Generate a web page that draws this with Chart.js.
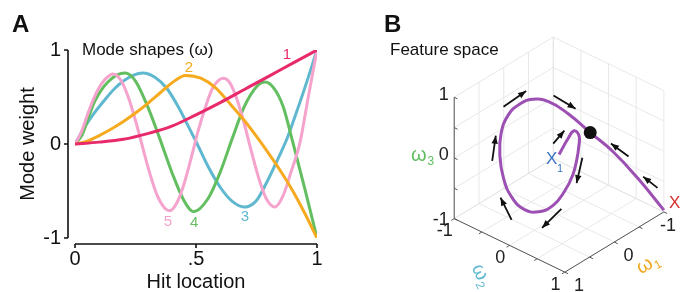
<!DOCTYPE html>
<html>
<head>
<meta charset="utf-8">
<script src="https://cdn.jsdelivr.net/npm/chart.js@4.4.1/dist/chart.umd.min.js"></script>
<style>
  body { margin: 0; background: #fff; }
  #wrap { position: relative; width: 680px; height: 292px; overflow: hidden; }
  canvas { position: absolute; top: 0; }
  #modes { left: 0; }
  #feature { left: 340px; }
</style>
</head>
<body>
<div id="wrap">
  <canvas id="modes" width="340" height="292"></canvas>
  <canvas id="feature" width="340" height="292"></canvas>
</div>
<script>
const FONT = '"Liberation Sans", Arial, Helvetica, sans-serif';
Chart.defaults.font.family = FONT;

// ---- panel A: mode shapes ----
const mode1Hit = [0, 0.1, 0.2, 0.3, 0.4, 0.5, 0.6, 0.7, 0.8, 0.9, 1];
const mode1Weight = [0, 0.02, 0.05, 0.11, 0.19, 0.31, 0.44, 0.58, 0.72, 0.86, 1];

const mode2Hit = [0, 0.05, 0.1, 0.15, 0.2, 0.25, 0.3, 0.35, 0.4, 0.457, 0.52, 0.58, 0.64, 0.7, 0.75, 0.8, 0.85, 0.9, 0.95, 1];
const mode2Weight = [0, 0.03, 0.09, 0.16, 0.24, 0.33, 0.43, 0.54, 0.65, 0.73, 0.7, 0.6, 0.43, 0.25, 0.08, -0.1, -0.29, -0.5, -0.74, -1];

const mode3Hit = [0, 0.04, 0.08, 0.12, 0.16, 0.2, 0.24, 0.28, 0.33, 0.38, 0.43, 0.47, 0.505, 0.55, 0.6, 0.65, 0.7, 0.75, 0.79, 0.84, 0.875, 0.91, 0.95, 1];
const mode3Weight = [0, 0.18, 0.33, 0.46, 0.58, 0.67, 0.73, 0.755, 0.71, 0.59, 0.38, 0.18, 0, -0.24, -0.46, -0.61, -0.67, -0.6, -0.42, -0.15, 0.05, 0.3, 0.6, 1];

const mode4Hit = [0, 0.03, 0.054, 0.081, 0.136, 0.207, 0.25, 0.3, 0.35, 0.4, 0.45, 0.49, 0.55, 0.6, 0.65, 0.7, 0.75, 0.785, 0.82, 0.86, 0.9, 0.95, 1];
const mode4Weight = [0, 0.1, 0.27, 0.45, 0.66, 0.755, 0.67, 0.4, 0.06, -0.3, -0.6, -0.72, -0.58, -0.3, 0.06, 0.4, 0.61, 0.66, 0.6, 0.4, 0.02, -0.48, -1];

const mode5Hit = [0, 0.025, 0.05, 0.075, 0.1, 0.125, 0.157, 0.19, 0.22, 0.25, 0.28, 0.31, 0.34, 0.37, 0.391, 0.42, 0.45, 0.48, 0.51, 0.54, 0.57, 0.613, 0.64, 0.67, 0.7, 0.73, 0.76, 0.79, 0.826, 0.86, 0.89, 0.93, 0.964, 1];
const mode5Weight = [0, 0.12, 0.3, 0.47, 0.6, 0.69, 0.745, 0.675, 0.5, 0.25, -0.04, -0.32, -0.55, -0.68, -0.71, -0.63, -0.43, -0.15, 0.15, 0.4, 0.6, 0.7, 0.65, 0.47, 0.21, -0.09, -0.37, -0.58, -0.67, -0.55, -0.32, 0.02, 0.5, 1];

const modeNames = ['1', '2', '3', '4', '5'];
const modeColors = ['#e8296b', '#f6aa1f', '#5fb8cf', '#62be5f', '#f5a3cd'];
// where the little mode numbers sit (hit location, weight)
const modeLabelHit = [0.876, 0.471, 0.702, 0.492, 0.384];
const modeLabelWeight = [0.95, 0.81, -0.78, -0.84, -0.83];

const hitTicks = [0, 0.5, 1];
const hitTickLabels = ['0', '.5', '1'];
const weightTicks = [-1, 0, 1];
const weightTickLabels = ['-1', '0', '1'];

const modeHits = [mode1Hit, mode2Hit, mode3Hit, mode4Hit, mode5Hit];
const modeWeights = [mode1Weight, mode2Weight, mode3Weight, mode4Weight, mode5Weight];

// red drawn on top, then orange, pink, green, cyan
const drawOrder = [0, 1, 4, 3, 2];
const modeDatasets = drawOrder.map(m => ({
  label: 'Mode ' + modeNames[m],
  data: modeHits[m].map((h, j) => ({ x: h, y: modeWeights[m][j] })),
  borderColor: modeColors[m],
  borderWidth: 3,
  pointRadius: 0,
  cubicInterpolationMode: 'monotone',
  fill: false
}));

const modesDecor = {
  id: 'modesDecor',
  afterDraw(chart) {
    const { ctx, chartArea, scales: { x, y } } = chart;
    ctx.save();
    // offset axes, matlab style
    ctx.strokeStyle = '#111';
    ctx.lineWidth = 1.6;
    ctx.beginPath();
    const ax = chartArea.left - 7;
    ctx.moveTo(ax, y.getPixelForValue(1));
    ctx.lineTo(ax, y.getPixelForValue(-1));
    weightTicks.forEach(t => {
      const py = y.getPixelForValue(t);
      ctx.moveTo(ax, py);
      ctx.lineTo(ax - 4, py);
    });
    const ay = chartArea.bottom + 6;
    ctx.moveTo(x.getPixelForValue(0), ay);
    ctx.lineTo(x.getPixelForValue(1), ay);
    hitTicks.forEach(t => {
      const px = x.getPixelForValue(t);
      ctx.moveTo(px, ay);
      ctx.lineTo(px, ay + 4);
    });
    ctx.stroke();

    ctx.fillStyle = '#111';
    ctx.textBaseline = 'alphabetic';
    ctx.textAlign = 'left';
    ctx.font = 'bold 24px ' + FONT;
    ctx.fillText('A', 12, 32);
    ctx.font = '17px ' + FONT;
    ctx.fillText('Mode shapes (\u03c9)', 82, 55);

    ctx.font = '15px ' + FONT;
    ctx.textAlign = 'center';
    ctx.textBaseline = 'middle';
    modeNames.forEach((n, m) => {
      ctx.fillStyle = modeColors[m];
      ctx.fillText(n, x.getPixelForValue(modeLabelHit[m]), y.getPixelForValue(modeLabelWeight[m]));
    });
    ctx.restore();
  }
};

new Chart(document.getElementById('modes'), {
  type: 'line',
  data: { datasets: modeDatasets },
  options: {
    responsive: false,
    animation: false,
    layout: { padding: { top: 50, right: 23, left: 0, bottom: 0 } },
    plugins: { legend: { display: false }, tooltip: { enabled: false } },
    scales: {
      x: {
        type: 'linear', min: 0, max: 1,
        afterBuildTicks: s => { s.ticks = hitTicks.map(v => ({ value: v })); },
        ticks: { callback: (v, i) => hitTickLabels[i], font: { size: 20 }, color: '#111', padding: 9, maxRotation: 0 },
        grid: { display: false, drawTicks: false },
        border: { display: false },
        title: { display: true, text: 'Hit location', font: { size: 20, lineHeight: 1 }, color: '#111', padding: 0 },
        afterFit: s => { s.height = 54; }
      },
      y: {
        type: 'linear', min: -1, max: 1,
        afterBuildTicks: s => { s.ticks = weightTicks.map(v => ({ value: v })); },
        ticks: { callback: (v, i) => weightTickLabels[i], font: { size: 20 }, color: '#111', padding: 14 },
        grid: { display: false, drawTicks: false },
        border: { display: false },
        title: { display: true, text: 'Mode weight', font: { size: 20 }, color: '#111', padding: { top: 16, bottom: 0 } },
        afterFit: s => { s.width = 75; }
      }
    }
  },
  plugins: [modesDecor]
});

// ---- panel B: feature space trajectory (w1, w2, w3) ----
const pathW1 = [0, 0.1, 0.2, 0.3, 0.35, 0.4, 0.45, 0.5, 0.5, 0.5, 0.45, 0.35, 0.25, 0.2, 0.2, 0.15, 0.1, 0.0, -0.1, -0.2, -0.35, -0.55, -0.78, -1];
const pathW2 = [0, 0.25, 0.45, 0.63, 0.67, 0.68, 0.65, 0.55, 0.34, 0.08, -0.22, -0.54, -0.78, -0.89, -0.87, -0.78, -0.62, -0.48, -0.28, -0.02, 0.25, 0.48, 0.73, 1.0];
const pathW3 = [0, 0.42, 0.69, 0.74, 0.6, 0.42, 0.17, -0.11, -0.44, -0.66, -0.78, -0.77, -0.61, -0.32, 0.06, 0.39, 0.61, 0.7, 0.7, 0.57, 0.3, -0.01, -0.46, -0.97];
const dotIndex = 20;

// flow arrows: tail and head in feature space
const arrowTailW1 = [0.15, -0.1, 0.05, 0.4, 0.3, -0.6, -0.95, 0.5, 0.6];
const arrowTailW2 = [-0.87, -0.19, -0.06, 0.78, -0.94, 0.72, 0.93, -0.41, 0.58];
const arrowTailW3 = [0.48, 0.84, 0.18, 0.49, -0.37, -0.01, -0.61, -1.01, -0.34];
const arrowHeadW1 = [0.05, -0.2, 0.15, 0.45, 0.25, -0.5, -0.85, 0.4, 0.6];
const arrowHeadW2 = [-0.55, 0.12, 0.23, 0.72, -0.92, 0.49, 0.76, -0.7, 0.23];
const arrowHeadW3 = [0.83, 0.71, 0.57, 0.07, 0.03, 0.15, -0.45, -0.82, -0.81];

const boxTicks = [-1, -0.5, 0, 0.5, 1];
const labelTicks = [-1, 0, 1];
const labelTickText = ['-1', '0', '1'];

// view: screen offset of one unit along each feature axis
const viewW1 = [-51.5, -31.5];
const viewW2 = [57.5, -28];
const viewW3 = [0, 63.5];
function project(w1, w2, w3) {
  return {
    x: w1 * viewW1[0] + w2 * viewW2[0] + w3 * viewW3[0],
    y: w1 * viewW1[1] + w2 * viewW2[1] + w3 * viewW3[1]
  };
}
const GAP = { x: null, y: null };

const gridPts = [];
boxTicks.forEach(t => {
  // floor
  gridPts.push(project(t, -1, -1), project(t, 1, -1), GAP);
  gridPts.push(project(-1, t, -1), project(1, t, -1), GAP);
  // back wall w2 = -1
  gridPts.push(project(t, -1, -1), project(t, -1, 1), GAP);
  gridPts.push(project(-1, -1, t), project(1, -1, t), GAP);
  // back wall w1 = -1
  gridPts.push(project(-1, t, -1), project(-1, t, 1), GAP);
  gridPts.push(project(-1, -1, t), project(-1, 1, t), GAP);
});

const axisPts = [
  project(1, -1, -1), project(1, -1, 1), GAP,
  project(1, -1, -1), project(1, 1, -1), GAP,
  project(1, 1, -1), project(-1, 1, -1), GAP
];
boxTicks.forEach(t => {
  axisPts.push(project(1, -1, t), project(1, -0.94, t), GAP);
  axisPts.push(project(1, t, -1), project(1.06, t, -1), GAP);
  axisPts.push(project(t, 1, -1), project(t, 1.06, -1), GAP);
});

const pathPts = pathW1.map((w, i) => project(w, pathW2[i], pathW3[i]));
const arrowPts = [];
arrowTailW1.forEach((w, i) => {
  arrowPts.push(project(w, arrowTailW2[i], arrowTailW3[i]), project(arrowHeadW1[i], arrowHeadW2[i], arrowHeadW3[i]), GAP);
});

function drawOmega(ctx, sub, color, cx, cy, angle) {
  ctx.save();
  ctx.translate(cx, cy);
  ctx.rotate(angle * Math.PI / 180);
  ctx.fillStyle = color;
  ctx.textAlign = 'left';
  ctx.textBaseline = 'middle';
  ctx.font = '20px ' + FONT;
  const w = ctx.measureText('\u03c9').width;
  ctx.fillText('\u03c9', -w / 2 - 3, 0);
  ctx.font = '12px ' + FONT;
  ctx.fillText(sub, w / 2 - 2, 6);
  ctx.restore();
}

const featureDecor = {
  id: 'featureDecor',
  afterDatasetsDraw(chart) {
    const { ctx, scales: { x, y } } = chart;
    const pix = (w1, w2, w3) => {
      const p = project(w1, w2, w3);
      return [x.getPixelForValue(p.x), y.getPixelForValue(p.y)];
    };
    ctx.save();
    // arrow heads
    ctx.fillStyle = '#111';
    arrowTailW1.forEach((w, i) => {
      const [tx, ty] = pix(w, arrowTailW2[i], arrowTailW3[i]);
      const [hx, hy] = pix(arrowHeadW1[i], arrowHeadW2[i], arrowHeadW3[i]);
      const a = Math.atan2(hy - ty, hx - tx);
      ctx.beginPath();
      ctx.moveTo(hx, hy);
      ctx.lineTo(hx - 8 * Math.cos(a) + 3.2 * Math.sin(a), hy - 8 * Math.sin(a) - 3.2 * Math.cos(a));
      ctx.lineTo(hx - 8 * Math.cos(a) - 3.2 * Math.sin(a), hy - 8 * Math.sin(a) + 3.2 * Math.cos(a));
      ctx.closePath();
      ctx.fill();
    });

    ctx.fillStyle = '#111';
    ctx.textBaseline = 'alphabetic';
    ctx.textAlign = 'left';
    ctx.font = 'bold 24px ' + FONT;
    ctx.fillText('B', 44, 32);
    ctx.font = '17px ' + FONT;
    ctx.fillText('Feature space', 50, 55);

    ctx.font = '18px ' + FONT;
    ctx.fillStyle = '#222';
    ctx.textBaseline = 'middle';
    ctx.textAlign = 'right';
    labelTicks.forEach((t, i) => {
      const [px, py] = pix(1, -1.1, t);
      ctx.fillText(labelTickText[i], px, py + (t === -1 ? 4 : 0));
    });
    ctx.textAlign = 'center';
    labelTicks.forEach((t, i) => {
      const [px, py] = pix(1.25, t, -1);
      ctx.fillText(labelTickText[i], px + 3, py + 5);
    });
    labelTicks.forEach((t, i) => {
      let [px, py] = pix(t, 1.2, -1);
      px = Math.min(px + 3, chart.width - 12);
      ctx.fillText(labelTickText[i], px, py + 9);
    });

    const [zx, zy] = pix(1, -1.1, 0);
    drawOmega(ctx, '3', '#5fbe5f', zx - 27, zy, 0);
    const [u2x, u2y] = pix(1.25, 0, -1);
    drawOmega(ctx, '2', '#5fb8cf', u2x - 16, u2y + 22, 65);
    const [u1x, u1y] = pix(0, 1.2, -1);
    drawOmega(ctx, '1', '#f0a81e', u1x + 22, u1y + 17, -30);

    // start / end markers
    const [sx, sy] = pix(pathW1[0], pathW2[0], pathW3[0]);
    ctx.fillStyle = '#3b74c4';
    ctx.textAlign = 'left';
    ctx.font = '17px ' + FONT;
    ctx.fillText('X', sx - 13, sy + 5);
    ctx.font = '11px ' + FONT;
    ctx.fillText('1', sx - 2, sy + 14);
    const n = pathW1.length - 1;
    const [ex, ey] = pix(pathW1[n], pathW2[n], pathW3[n]);
    ctx.fillStyle = '#d7302e';
    ctx.font = '17px ' + FONT;
    ctx.fillText('X', ex + 5, ey - 7);
    ctx.restore();
  }
};

new Chart(document.getElementById('feature'), {
  type: 'scatter',
  data: {
    datasets: [
      { data: [pathPts[dotIndex]], pointRadius: 6.5, pointBackgroundColor: '#111', pointBorderWidth: 0, showLine: false },
      { data: arrowPts, showLine: true, borderColor: '#111', borderWidth: 1.8, pointRadius: 0, spanGaps: false },
      { data: pathPts, showLine: true, borderColor: '#9c50b4', borderWidth: 3, pointRadius: 0, tension: 0.45 },
      { data: axisPts, showLine: true, borderColor: '#555', borderWidth: 1, pointRadius: 0, spanGaps: false },
      { data: gridPts, showLine: true, borderColor: '#e2e2e2', borderWidth: 0.8, pointRadius: 0, spanGaps: false }
    ]
  },
  options: {
    responsive: false,
    animation: false,
    layout: { padding: 0 },
    plugins: { legend: { display: false }, tooltip: { enabled: false } },
    scales: {
      x: { type: 'linear', min: -221, max: 119, display: false },
      y: { type: 'linear', min: -137, max: 155, display: false }
    }
  },
  plugins: [featureDecor]
});
</script>
</body>
</html>
